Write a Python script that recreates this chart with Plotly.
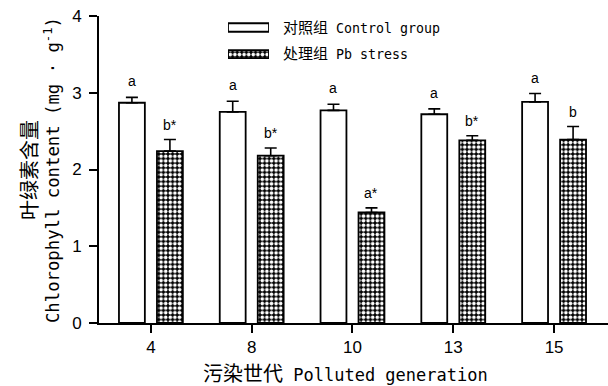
import plotly.graph_objects as go

categories = ["4", "8", "10", "13", "15"]
control = [2.87, 2.75, 2.77, 2.72, 2.88]
control_err = [0.07, 0.14, 0.08, 0.07, 0.11]
stress = [2.24, 2.18, 1.44, 2.38, 2.39]
stress_err = [0.15, 0.10, 0.06, 0.06, 0.17]
control_labels = ["a", "a", "a", "a", "a"]
stress_labels = ["b*", "b*", "a*", "b*", "b"]
yticks = [0, 1, 2, 3, 4]

MONO = "DejaVu Sans Mono, Noto Sans CJK SC, monospace"
ARIAL = "Liberation Sans, Arial, sans-serif"
BAR_W = 0.257
pattern = dict(shape=".", fgcolor="white", bgcolor="black", size=4.6, solidity=0.5, fillmode="replace")

fig = go.Figure()
fig.add_trace(go.Bar(
    x=categories, y=control, width=BAR_W, offset=-0.317,
    marker=dict(color="white", line=dict(color="black", width=1.8)),
    error_y=dict(type="data", symmetric=False, array=control_err, arrayminus=[0]*5,
                 color="black", thickness=1.6, width=6),
    showlegend=False,
))
fig.add_trace(go.Bar(
    x=categories, y=stress, width=BAR_W, offset=0.06,
    marker=dict(color="black", line=dict(color="black", width=1.8), pattern=pattern),
    error_y=dict(type="data", symmetric=False, array=stress_err, arrayminus=[0]*5,
                 color="black", thickness=1.6, width=6),
    showlegend=False,
))

# letter annotations
annots = []
for i, c in enumerate(categories):
    annots.append(dict(x=i + (-0.317 + BAR_W / 2), y=control[i] + control_err[i], xref="x", yref="y",
                       text=control_labels[i], showarrow=False, yanchor="bottom", yshift=6,
                       font=dict(family=ARIAL, size=14, color="black")))
    annots.append(dict(x=i + (0.06 + BAR_W / 2), y=stress[i] + stress_err[i], xref="x", yref="y",
                       text=stress_labels[i], showarrow=False, yanchor="bottom", yshift=5,
                       font=dict(family=ARIAL, size=14, color="black")))

# legend swatches on overlay axes (legend geometry, not data)
fig.add_trace(go.Bar(
    x=[1], y=[27.5], orientation="h", width=8.5, base=0, xaxis="x2", yaxis="y2",
    marker=dict(color="white", line=dict(color="black", width=1.8)), showlegend=False, hoverinfo="skip"))
fig.add_trace(go.Bar(
    x=[1], y=[54], orientation="h", width=8, base=0, xaxis="x2", yaxis="y2",
    marker=dict(color="black", line=dict(color="black", width=1.8), pattern=pattern),
    showlegend=False, hoverinfo="skip"))

annots.append(dict(x=0.357, y=0.961, xref="paper", yref="paper", xanchor="left", yanchor="middle",
                   text='<span style="font-size:15px">对照组</span> Control group', showarrow=False,
                   font=dict(family=MONO, size=13.3, color="black")))
annots.append(dict(x=0.357, y=0.876, xref="paper", yref="paper", xanchor="left", yanchor="middle",
                   text='<span style="font-size:15px">处理组</span> Pb stress', showarrow=False,
                   font=dict(family=MONO, size=13.3, color="black")))

# axis titles
annots.append(dict(x=-0.116, y=0.498, xref="paper", yref="paper", xanchor="center", yanchor="middle",
                   textangle=-90, showarrow=False,
                   text='<span style="font-size:20px">叶绿素含量</span><br>Chlorophyll content (mg · g<sup>-1</sup>)',
                   font=dict(family=MONO, size=17.3, color="black")))
annots.append(dict(x=0.4835, y=-0.165, xref="paper", yref="paper", xanchor="center", yanchor="middle",
                   showarrow=False,
                   text='<span style="font-size:20px">污染世代</span> Polluted generation',
                   font=dict(family=MONO, size=17, color="black")))

fig.update_layout(
    width=608, height=386,
    margin=dict(l=99, r=0, t=16, b=63),
    paper_bgcolor="white", plot_bgcolor="white",
    barmode="overlay",
    annotations=annots,
    xaxis=dict(type="category", range=[-0.515, 4.535], showline=True, linecolor="black", linewidth=2,
               ticks="outside", ticklen=8, tickwidth=2, tickcolor="black", showgrid=False, zeroline=False,
               tickfont=dict(family=ARIAL, size=17, color="black"), fixedrange=True),
    yaxis=dict(range=[0, 4], tickvals=yticks, showline=True, linecolor="black", linewidth=2,
               ticks="outside", ticklen=8, tickwidth=2, tickcolor="black", showgrid=False, zeroline=False,
               tickfont=dict(family=ARIAL, size=17, color="black"), ticklabelstandoff=4),
    xaxis2=dict(domain=[(228 - 99) / 509, (269 - 99) / 509], range=[0, 1], visible=False, anchor="y2"),
    yaxis2=dict(domain=[(322.7 - 61) / 306.7, (322.7 - 20) / 306.7], range=[61, 20], visible=False, anchor="x2"),
)

fig.write_html("out.html", config={"displayModeBar": False},
               post_script="document.body.style.margin='0';")
